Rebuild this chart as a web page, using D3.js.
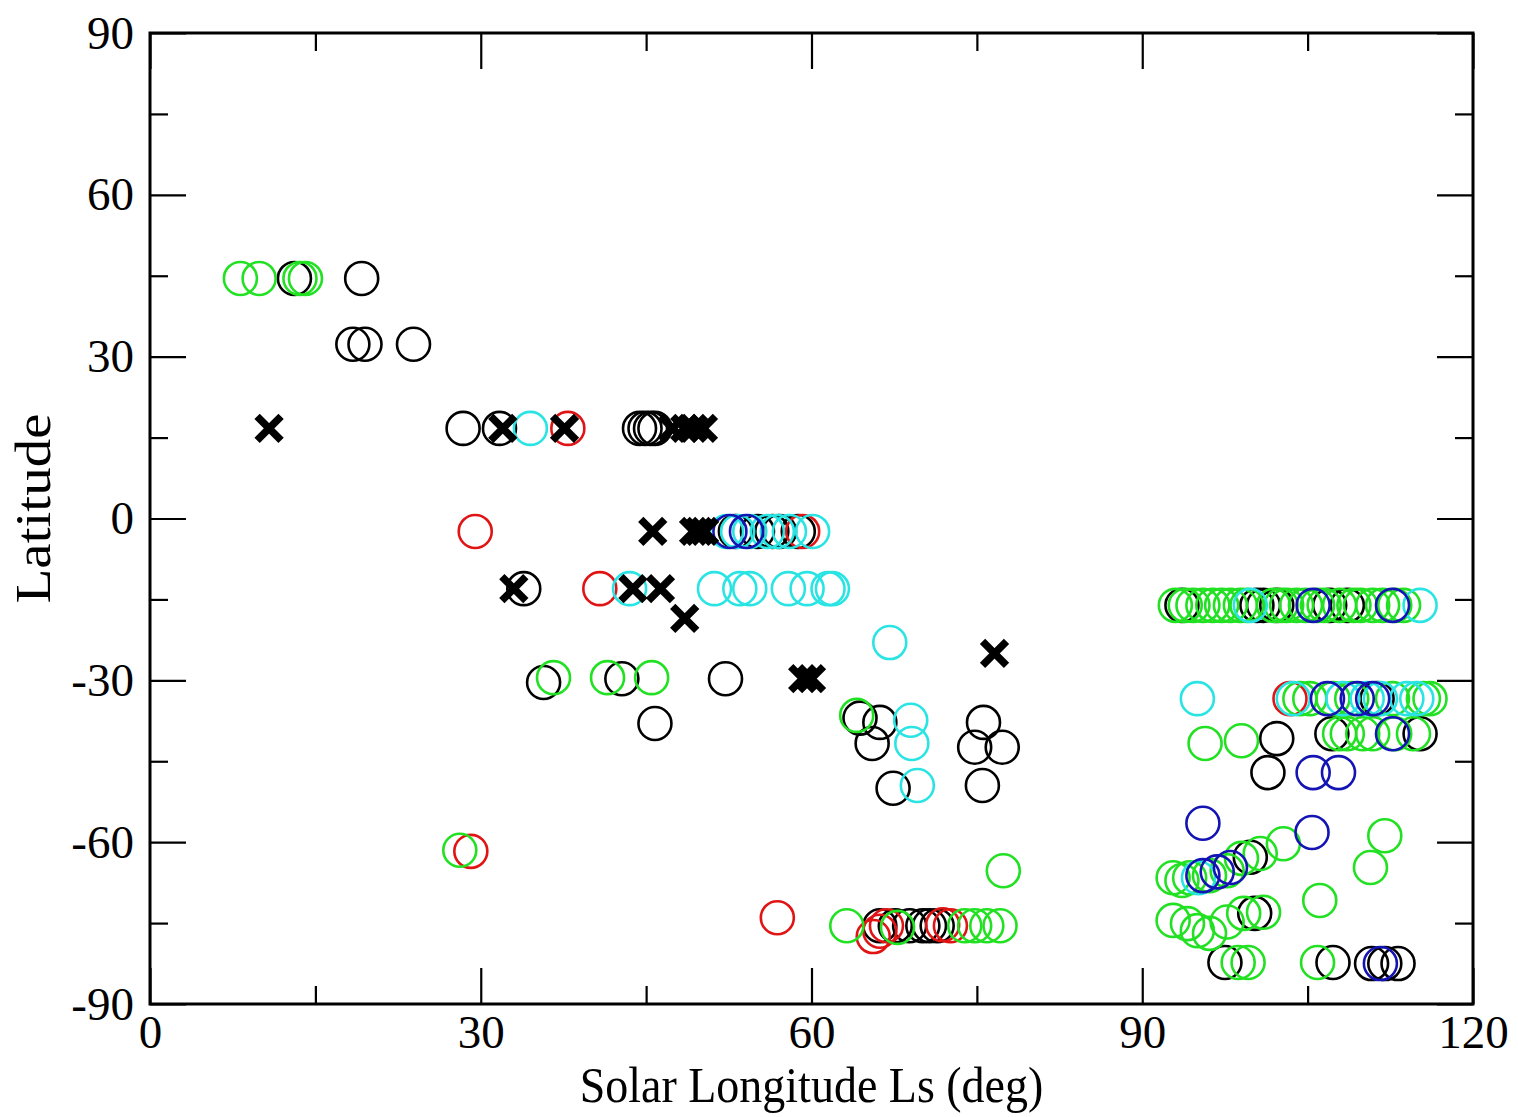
<!DOCTYPE html>
<meta charset="utf-8">
<style>
  body { margin: 0; background: #fff; }
  .axis text { font-family: "Liberation Serif", "Times New Roman", serif; font-size: 47px; fill: #000; }
  .axis line { stroke: #000; stroke-width: 2.2px; }
  .axis path { display: none; }
  .title { font-family: "Liberation Serif", "Times New Roman", serif; fill: #000; }
</style>
<body>
<script src="https://d3js.org/d3.v7.min.js"></script>
<script>
// [Ls (deg), latitude]
var blackCircles = [[13.1,44.5],[19.2,44.5],[18.4,32.3],[19.5,32.3],[23.9,32.3],
  [28.4,16.7],[31.7,16.7],[44.4,16.7],[44.9,16.7],[45.4,16.7],[45.8,16.7],
  [53.1,-2.4],[55.1,-2.4],[56.4,-2.4],[57.1,-2.4],[58.8,-2.4],[33.9,-13.0],
  [35.7,-30.4],[42.8,-29.7],[45.8,-38.0],[52.2,-29.7],
  [64.4,-37.0],[66.2,-37.8],[65.5,-41.7],[67.4,-50.0],[75.6,-37.8],[74.8,-42.4],[77.3,-42.4],[75.5,-49.5],
  [66.2,-75.5],[67.6,-75.5],[68.9,-75.5],[70.1,-75.5],[70.7,-75.5],[71.4,-75.5],
  [93.6,-16.1],[100.4,-16.1],[101.0,-16.1],[102.2,-16.1],[107.0,-16.1],[108.6,-16.1],
  [111.3,-33.4],[107.2,-39.9],[115.2,-39.9],[102.2,-40.8],[101.4,-47.1],[99.8,-62.8],[100.2,-73.2],
  [97.5,-82.3],[107.3,-82.3],[110.8,-82.5],[112.0,-82.5],[113.2,-82.5]];

var greenCircles = [[8.2,44.5],[9.9,44.5],[13.6,44.5],[14.1,44.5],
  [36.6,-29.5],[41.5,-29.5],[45.5,-29.5],[28.1,-61.5],[64.1,-36.5],[77.4,-65.3],
  [63.2,-75.5],[67.8,-75.8],[73.9,-75.5],[74.8,-75.5],[75.9,-75.5],[77.1,-75.5],
  [93.0,-16.1],[93.9,-16.1],[94.6,-16.1],[95.5,-16.1],[96.4,-16.1],[97.2,-16.1],[98.0,-16.1],[98.9,-16.1],
  [99.5,-16.1],[101.9,-16.1],[102.6,-16.1],[103.1,-16.1],[104.0,-16.1],[104.8,-16.1],[105.9,-16.1],
  [106.5,-16.1],[107.9,-16.1],[109.2,-16.1],[109.8,-16.1],[110.9,-16.1],[111.8,-16.1],[112.9,-16.1],[113.7,-16.1],
  [104.3,-33.4],[105.2,-33.4],[107.3,-33.4],[109.0,-33.4],[112.7,-33.4],[115.5,-33.4],[116.1,-33.4],
  [107.9,-39.9],[108.6,-39.9],[110.0,-39.9],[110.9,-39.9],[112.9,-39.9],[114.6,-39.9],
  [95.7,-41.7],[99.0,-41.2],[112.0,-58.8],[110.7,-64.7],[106.1,-70.8],[102.8,-60.3],[100.7,-62.1],
  [99.0,-63.0],[97.7,-65.3],[96.1,-66.2],[94.3,-66.6],[93.6,-67.1],[92.8,-66.6],
  [92.8,-74.5],[94.1,-75.1],[95.0,-76.4],[96.1,-76.9],[97.7,-74.8],[99.2,-73.2],[101.0,-73.0],
  [98.7,-82.3],[99.6,-82.3],[105.9,-82.3]];

var redCircles = [[37.9,16.7],[29.5,-2.4],[59.2,-2.4],[40.8,-13.0],[29.1,-61.7],[56.9,-74.0],
  [65.6,-77.5],[66.2,-76.5],[66.8,-75.5],[71.9,-75.3],[72.6,-75.5],[103.4,-33.4]];

var cyanCircles = [[34.5,16.7],[52.3,-2.4],[53.3,-2.4],[54.4,-2.4],[56.0,-2.4],[56.9,-2.4],[58.0,-2.4],[60.1,-2.4],
  [43.5,-13.0],[51.2,-13.0],[53.5,-13.0],[54.4,-13.0],[57.9,-13.0],[59.6,-13.0],[61.5,-13.0],[61.9,-13.0],
  [67.1,-23.0],[69.0,-37.4],[69.1,-41.7],[69.6,-49.5],[99.8,-16.1],[115.2,-16.1],
  [95.0,-33.4],[103.7,-33.4],[108.2,-33.4],[110.4,-33.4],[111.6,-33.4],[114.0,-33.4],[114.9,-33.4],[95.1,-66.6]];

var blueCircles = [[52.6,-2.4],[54.1,-2.4],[105.5,-16.1],[112.7,-16.1],[106.8,-33.4],[109.5,-33.4],[110.9,-33.4],
  [112.7,-39.9],[105.5,-47.1],[107.8,-47.1],[95.5,-56.5],[105.4,-58.2],[98.0,-64.7],[96.8,-65.5],[95.5,-66.2],[111.6,-82.5]];

var crosses = [[10.8,16.7],[32.0,16.7],[37.6,16.7],[47.4,16.7],[48.5,16.7],[49.3,16.7],[50.2,16.7],
  [45.6,-2.4],[49.3,-2.4],[49.8,-2.4],[50.3,-2.4],[33.0,-13.0],[43.8,-13.0],[46.3,-13.0],[48.5,-18.5],
  [59.2,-29.7],[60.0,-29.7],[76.6,-25.0]];

var xMajor = [0, 30, 60, 90, 120], xMinor = [15, 45, 75, 105];
var yMajor = [-90, -60, -30, 0, 30, 60, 90], yMinor = [-75, -45, -15, 15, 45, 75];

var margin = {top: 33, right: 45, bottom: 113, left: 150},
    width = 1518 - margin.left - margin.right,
    height = 1117 - margin.top - margin.bottom;

var x = d3.scaleLinear().domain([0, 120]).range([0, width]);
var y = d3.scaleLinear().domain([-90, 90]).range([height, 0]);

var svg = d3.select("body").append("svg")
    .attr("width", 1518)
    .attr("height", 1117)
  .append("g")
    .attr("transform", "translate(" + margin.left + "," + margin.top + ")");

// plain hyphen for negatives, like the original
var fmt = function(d) { return String(d); };

// ticks point inward on all four sides
function addAxis(axis, cls, tr) {
  var g = svg.append("g").attr("class", "axis " + cls).call(axis);
  if (tr) g.attr("transform", tr);
  return g;
}
addAxis(d3.axisBottom(x).tickValues(xMajor).tickSize(-36).tickPadding(11).tickFormat(fmt), "x", "translate(0," + height + ")");
addAxis(d3.axisBottom(x).tickValues(xMinor).tickSize(-18).tickFormat(""), "x", "translate(0," + height + ")");
addAxis(d3.axisTop(x).tickValues(xMajor).tickSize(-36).tickFormat(""), "x");
addAxis(d3.axisTop(x).tickValues(xMinor).tickSize(-18).tickFormat(""), "x");
addAxis(d3.axisLeft(y).tickValues(yMajor).tickSize(-36).tickPadding(16).tickFormat(fmt), "y");
addAxis(d3.axisLeft(y).tickValues(yMinor).tickSize(-18).tickFormat(""), "y");
addAxis(d3.axisRight(y).tickValues(yMajor).tickSize(-36).tickFormat(""), "y", "translate(" + width + ",0)");
addAxis(d3.axisRight(y).tickValues(yMinor).tickSize(-18).tickFormat(""), "y", "translate(" + width + ",0)");

svg.append("rect")
    .attr("width", width).attr("height", height)
    .attr("fill", "none").attr("stroke", "#000").attr("stroke-width", 3);

// data sets, in drawing order
var sets = [
  {data: blackCircles, color: "#000000"},
  {data: redCircles, color: "#e01414"},
  {data: greenCircles, color: "#22e022"},
  {data: cyanCircles, color: "#2ae4e4"},
  {data: blueCircles, color: "#1414b4"}
];
sets.forEach(function(s) {
  svg.append("g").selectAll("circle")
      .data(s.data)
    .enter().append("circle")
      .attr("cx", function(d) { return x(d[0]); })
      .attr("cy", function(d) { return y(d[1]); })
      .attr("r", 16.5)
      .attr("fill", "none")
      .attr("stroke", s.color)
      .attr("stroke-width", 2.6);
});

var cs = 12;
svg.append("g").selectAll("path")
    .data(crosses)
  .enter().append("path")
    .attr("transform", function(d) { return "translate(" + x(d[0]) + "," + y(d[1]) + ")"; })
    .attr("d", "M" + (-cs) + "," + (-cs) + "L" + cs + "," + cs + "M" + (-cs) + "," + cs + "L" + cs + "," + (-cs))
    .attr("stroke", "#000")
    .attr("stroke-width", 7.5)
    .attr("fill", "none");

svg.append("text")
    .attr("class", "title")
    .attr("transform", "translate(" + (width / 2) + "," + (height + 98) + ") scale(1,1.1)")
    .attr("text-anchor", "middle")
    .style("font-size", "46px")
    .text("Solar Longitude Ls (deg)");

svg.append("text")
    .attr("class", "title")
    .attr("transform", "translate(" + (-100) + "," + (height / 2 - 10) + ") rotate(-90) scale(1.14,1)")
    .attr("text-anchor", "middle")
    .style("font-size", "50px")
    .text("Latitude");
</script>
</body>
